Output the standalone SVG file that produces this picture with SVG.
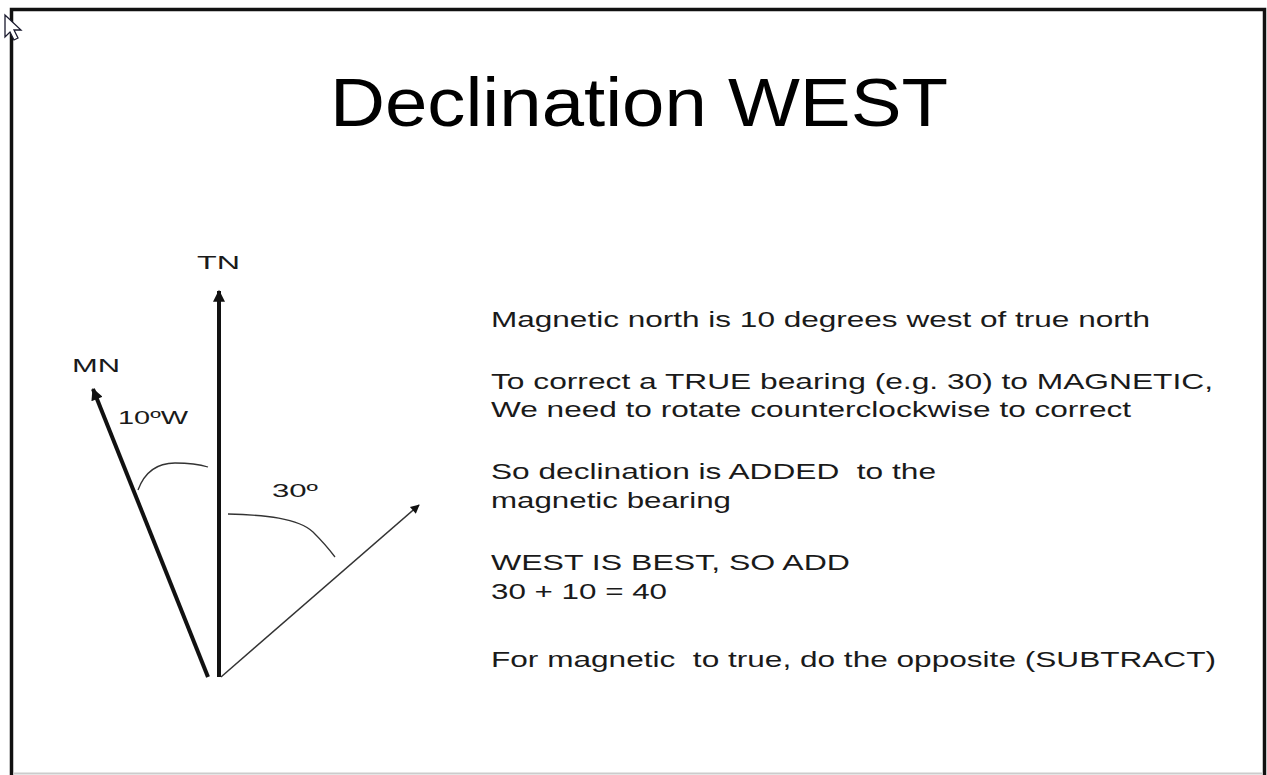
<svg xmlns="http://www.w3.org/2000/svg" width="1267" height="775" viewBox="0 0 1267 775">
<style>
.t{font-family:"Liberation Sans",Arial,sans-serif;fill:#1a1a1a;}
.body{font-size:22px;}
.lbl{font-size:19px;}
.title{font-size:68px;fill:#000;}
.arc{fill:none;stroke:#333;stroke-width:1.3;}
</style>
<defs>
<marker id="ah" viewBox="0 0 10 10" refX="9" refY="5" markerWidth="3.4" markerHeight="3" orient="auto" markerUnits="strokeWidth">
<path d="M0,0 L10,5 L0,10 z" fill="#111"/>
</marker>
<marker id="ahs" viewBox="0 0 10 10" refX="9" refY="5" markerWidth="7" markerHeight="6" orient="auto" markerUnits="strokeWidth">
<path d="M0,0 L10,5 L0,10 z" fill="#111"/>
</marker>
</defs>
<rect width="1267" height="775" fill="#fff"/>
<g id="frame">
<path d="M11.5,775 V9.5 H1264.5 V775" fill="none" stroke="#111" stroke-width="3.5"/>
<line x1="13" y1="773.5" x2="1263" y2="773.5" stroke="#ccc" stroke-width="2"/>
</g>
<g id="cursor">
<path d="M5,15 L5,37 L10,32 L14,40 L18,38 L14,30 L21,30 Z" fill="#fff" stroke="#1a1a2e" stroke-width="1.3"/>
</g>
<g id="title"><text class="t title" x="330" y="126" textLength="618" lengthAdjust="spacingAndGlyphs">Declination WEST</text></g>
<g id="connectors">
<line x1="219" y1="677" x2="219" y2="291" stroke="#111" stroke-width="4" marker-end="url(#ah)"/>
<line x1="208" y1="677" x2="93" y2="389" stroke="#111" stroke-width="4" marker-end="url(#ah)"/>
<line x1="221" y1="677" x2="419" y2="505" stroke="#333" stroke-width="1.5" marker-end="url(#ahs)"/>
<path class="arc" d="M138,490 Q148,463 175,463 Q195,463 208,467"/>
<path class="arc" d="M228,514 C265,515 298,518 313,532 Q326,545 335,557"/>
</g>
<g id="node-TN"><text class="t lbl" x="197" y="269" textLength="43" lengthAdjust="spacingAndGlyphs">TN</text></g>
<g id="node-MN"><text class="t lbl" x="72" y="372" textLength="48" lengthAdjust="spacingAndGlyphs">MN</text></g>
<g id="label-10W"><text class="t lbl" x="118" y="424" textLength="70" lengthAdjust="spacingAndGlyphs">10ºW</text></g>
<g id="label-30"><text class="t lbl" x="272" y="497" textLength="46" lengthAdjust="spacingAndGlyphs">30º</text></g>
<g id="notes">
<text class="t body" x="491" y="327" textLength="659" lengthAdjust="spacingAndGlyphs">Magnetic north is 10 degrees west of true north</text>
<text class="t body" x="491" y="389" textLength="722" lengthAdjust="spacingAndGlyphs">To correct a TRUE bearing (e.g. 30) to MAGNETIC,</text>
<text class="t body" x="491" y="417" textLength="640" lengthAdjust="spacingAndGlyphs">We need to rotate counterclockwise to correct</text>
<text class="t body" x="491" y="479" textLength="445" lengthAdjust="spacingAndGlyphs" xml:space="preserve">So declination is ADDED  to the</text>
<text class="t body" x="491" y="508" textLength="240" lengthAdjust="spacingAndGlyphs">magnetic bearing</text>
<text class="t body" x="491" y="570" textLength="359" lengthAdjust="spacingAndGlyphs">WEST IS BEST, SO ADD</text>
<text class="t body" x="491" y="599" textLength="176" lengthAdjust="spacingAndGlyphs">30 + 10 = 40</text>
<text class="t body" x="491" y="667" textLength="725" lengthAdjust="spacingAndGlyphs" xml:space="preserve">For magnetic  to true, do the opposite (SUBTRACT)</text>
</g>
</svg>
